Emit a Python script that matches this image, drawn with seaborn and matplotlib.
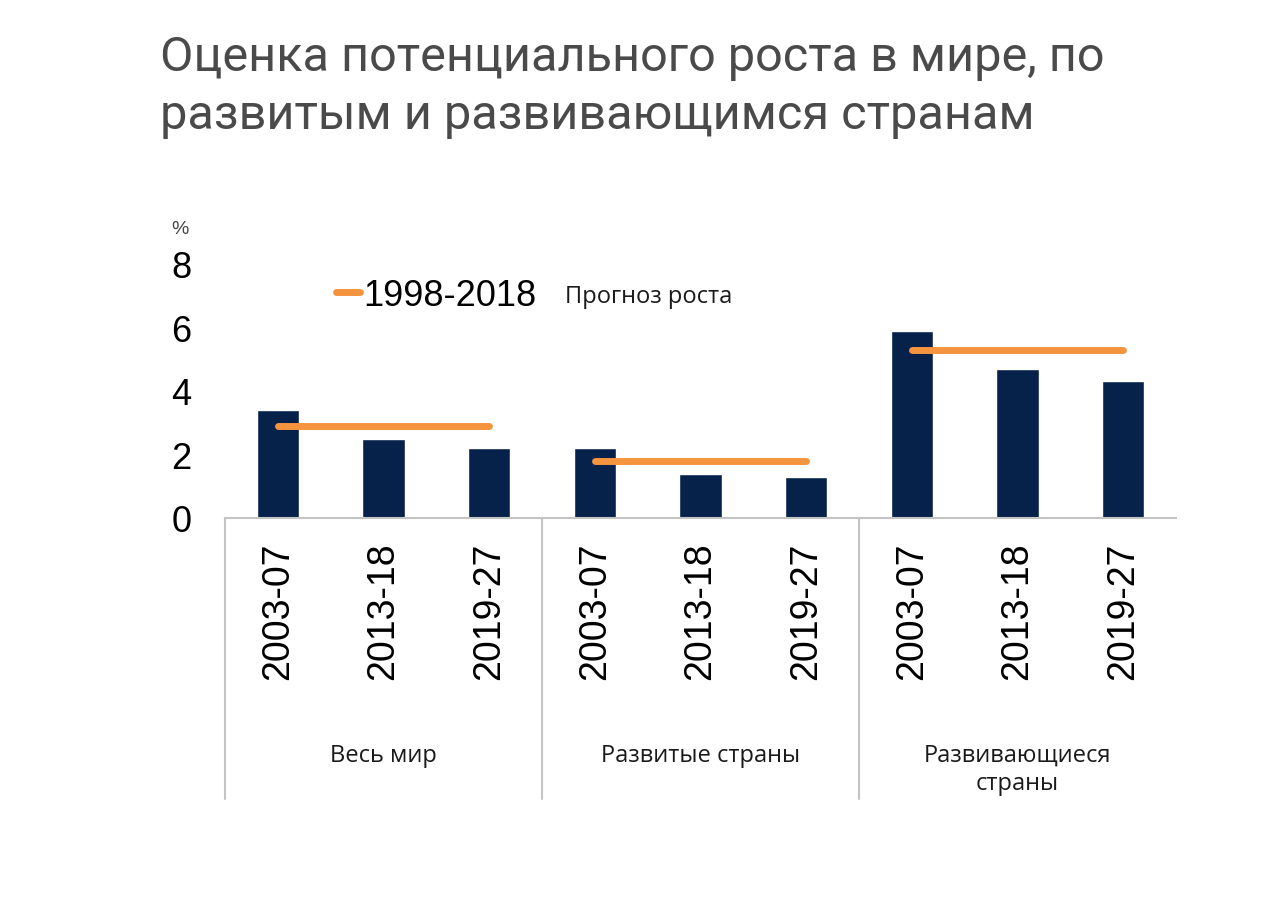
import numpy as np
import pandas as pd
import matplotlib
matplotlib.use('Agg')
import matplotlib.pyplot as plt
import matplotlib.transforms as mtransforms
from matplotlib.lines import Line2D
import seaborn as sns

# ── data ─────────────────────────────────────────────────────────
groups  = ['Весь мир', 'Развитые страны', 'Развивающиеся\nстраны']
periods = ['2003-07', '2013-18', '2019-27']
growth  = [[3.4, 2.5, 2.2],
           [2.2, 1.4, 1.3],
           [5.9, 4.7, 4.3]]
avg_1998_2018 = [2.9, 1.8, 5.3]

title      = 'Оценка потенциального роста в мире, по\nразвитым и развивающимся странам'
legend_lbl = '1998-2018'
legend_sub = 'Прогноз роста'
y_ticks    = [0, 2, 4, 6, 8]

BAR   = '#07224a'
ORNG  = '#f5943f'
GRID  = '#c4c4c4'

rows = []
for g, vals in zip(groups, growth):
    for p, v in zip(periods, vals):
        rows.append({'group': g, 'period': p, 'key': f'{g}|{p}', 'value': v})
df = pd.DataFrame(rows)

# ── plot ─────────────────────────────────────────────────────────
sns.set_style('white')
plt.rcParams['font.family'] = ['Liberation Sans', 'DejaVu Sans']

fig = plt.figure(figsize=(12.84, 9.04), dpi=100)
ax = fig.add_axes([225 / 1284, 1 - 519 / 904, 951 / 1284, 254 / 904])

sns.barplot(data=df, x='key', y='value', order=list(df['key']),
            color=BAR, width=0.4, saturation=1, ax=ax)

# orange average lines across each group (bar centre to bar centre)
for gi, lvl in enumerate(avg_1998_2018):
    first = gi * len(periods)
    last = first + len(periods) - 1
    ax.plot([first, last], [lvl, lvl], color=ORNG, lw=5,
            solid_capstyle='round', zorder=3)

ax.set_xlim(-0.5, len(df) - 0.5)
ax.set_ylim(0, 8)
ax.set_yticks(y_ticks)
ax.set_yticklabels([str(t) for t in y_ticks], fontsize=26, color='black')
ax.set_xticks(range(len(df)))
ax.set_xticklabels(df['period'], rotation=90, fontsize=27, color='black')
ax.tick_params(axis='y', length=0, pad=24)
ax.tick_params(axis='x', length=0, pad=17)
ax.set_xlabel('')
ax.set_ylabel('')
for side in ['left', 'right', 'top']:
    ax.spines[side].set_visible(False)
ax.spines['bottom'].set_color(GRID)
ax.spines['bottom'].set_linewidth(1.5)

# group separators and group labels below the axis
trans = mtransforms.blended_transform_factory(ax.transData, ax.transAxes)
for gi in range(len(groups)):
    xs = gi * len(periods) - 0.5
    ax.plot([xs, xs], [0, -(800 - 519) / 254], color=GRID, lw=1.5,
            transform=trans, clip_on=False)
for gi, g in enumerate(groups):
    xc = gi * len(periods) + (len(periods) - 1) / 2
    ax.text(xc, -(744 - 519) / 254, g, transform=trans, ha='center', va='top',
            fontsize=17, family=['Open Sans', 'DejaVu Sans'],
            linespacing=1.25, color='#1a1a1a')

# "%" label
fig.text(180 / 1284, 1 - 229 / 904, '%', ha='center', va='center',
         fontsize=14, color='#444444')

# legend
h = [Line2D([0], [0], color=ORNG, lw=5, solid_capstyle='round')]
leg = ax.legend(h, [legend_lbl], loc='center left', frameon=False,
                bbox_to_anchor=(318 / 1284, 1 - 296 / 904),
                bbox_transform=fig.transFigure, fontsize=26,
                handlelength=0.65, handletextpad=0.1, borderpad=0)
for t in leg.get_texts():
    t.set_color('black')
fig.text(565 / 1284, 1 - 297 / 904, legend_sub, ha='left', va='center',
         fontsize=17, family=['Open Sans', 'DejaVu Sans'], color='#1a1a1a')

# title
fig.text(160 / 1284, 1 - 35 / 904, title, ha='left', va='top',
         fontsize=35, family=['Roboto', 'DejaVu Sans'], color='#4a4a4a',
         linespacing=1.33)

plt.savefig('out.png', dpi=100, facecolor='white')
plt.close()
